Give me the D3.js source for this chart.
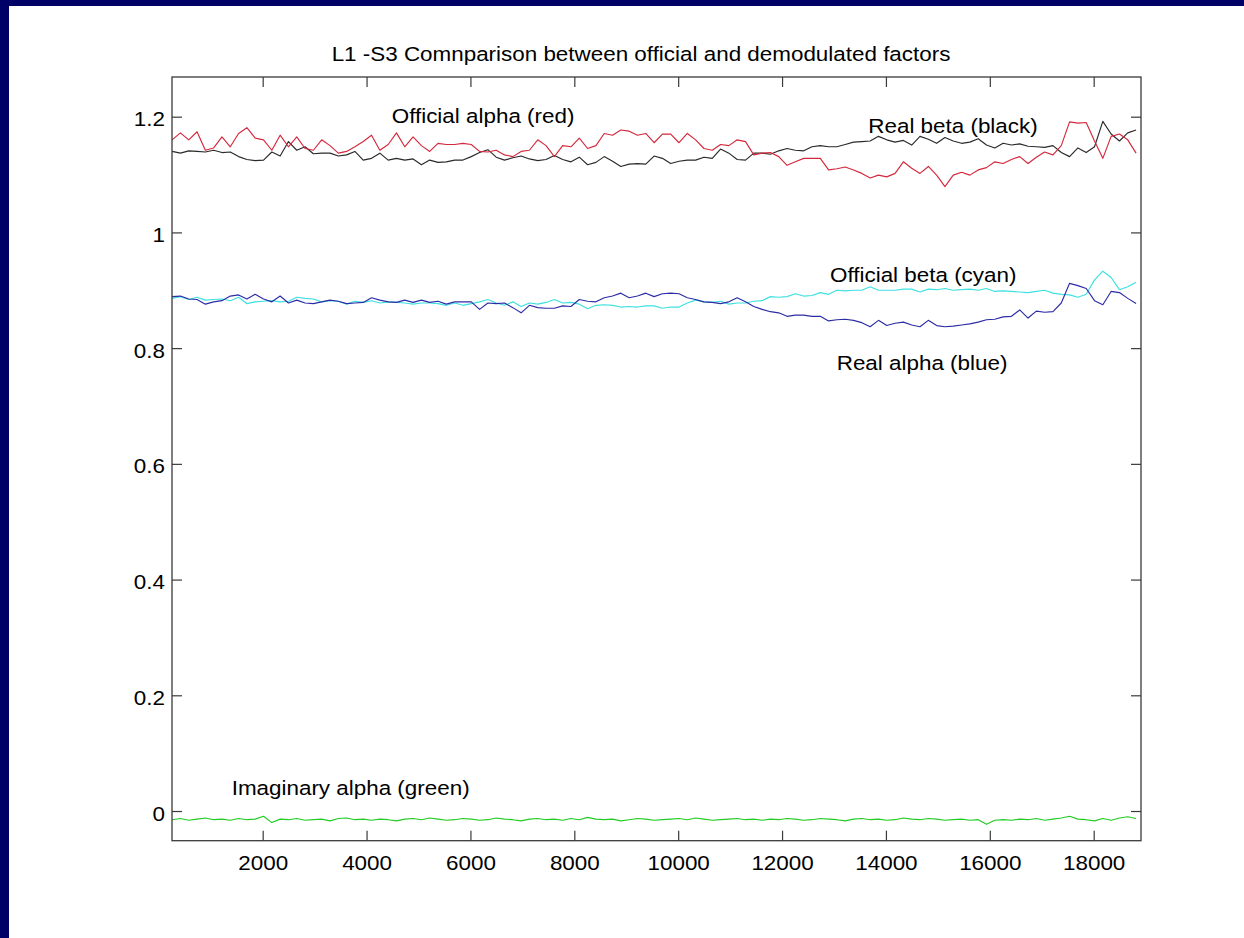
<!DOCTYPE html>
<html>
<head>
<meta charset="utf-8">
<script src="https://cdn.jsdelivr.net/npm/d3@7"></script>
<style>
  html, body { margin: 0; padding: 0; background: #000066; }
  svg { display: block; }
  text { font-family: "Liberation Sans", Arial, Helvetica, sans-serif; fill: #000; }
</style>
</head>
<body>
<svg id="chart" width="1244" height="938"></svg>
<script>
// Sample positions: first sample and spacing of the calibration record
const sampleStart = 256;
const sampleStep = 160;

// Official alpha (red)
const officialAlpha = [
  1.160, 1.172, 1.160, 1.174, 1.142, 1.146, 1.165, 1.148, 1.171, 1.181,
  1.163, 1.160, 1.142, 1.168, 1.148, 1.165, 1.145, 1.142, 1.160, 1.150,
  1.137, 1.140, 1.148, 1.157, 1.168, 1.142, 1.152, 1.172, 1.148, 1.165,
  1.150, 1.140, 1.154, 1.152, 1.152, 1.154, 1.152, 1.140, 1.139, 1.142,
  1.134, 1.131, 1.140, 1.142, 1.160, 1.150, 1.131, 1.150, 1.148, 1.163,
  1.145, 1.150, 1.171, 1.168, 1.177, 1.175, 1.168, 1.171, 1.155, 1.170,
  1.170, 1.155, 1.171, 1.160, 1.145, 1.142, 1.152, 1.150, 1.160, 1.157,
  1.134, 1.137, 1.138, 1.131, 1.116, 1.122, 1.128, 1.128, 1.128, 1.108,
  1.110, 1.113, 1.108, 1.102, 1.094, 1.099, 1.096, 1.102, 1.122, 1.111,
  1.102, 1.114, 1.099, 1.079, 1.099, 1.104, 1.099, 1.108, 1.112, 1.122,
  1.119, 1.126, 1.131, 1.119, 1.130, 1.139, 1.134, 1.150, 1.191, 1.189,
  1.190, 1.158, 1.128, 1.166, 1.170, 1.160, 1.137
];

// Real beta (black)
const realBeta = [
  1.140, 1.137, 1.141, 1.140, 1.139, 1.142, 1.138, 1.139, 1.131, 1.126,
  1.124, 1.125, 1.139, 1.132, 1.157, 1.142, 1.148, 1.136, 1.137, 1.137,
  1.132, 1.134, 1.140, 1.125, 1.128, 1.137, 1.125, 1.128, 1.125, 1.127,
  1.117, 1.125, 1.121, 1.122, 1.125, 1.125, 1.131, 1.138, 1.143, 1.130,
  1.125, 1.129, 1.132, 1.127, 1.124, 1.126, 1.133, 1.126, 1.122, 1.130,
  1.117, 1.121, 1.131, 1.123, 1.114, 1.118, 1.119, 1.118, 1.132, 1.128,
  1.119, 1.123, 1.125, 1.125, 1.130, 1.128, 1.144, 1.137, 1.126, 1.125,
  1.137, 1.137, 1.135, 1.141, 1.145, 1.142, 1.141, 1.148, 1.150, 1.148,
  1.148, 1.152, 1.156, 1.157, 1.158, 1.166, 1.160, 1.156, 1.159, 1.151,
  1.166, 1.161, 1.154, 1.164, 1.158, 1.154, 1.156, 1.162, 1.151, 1.146,
  1.154, 1.151, 1.153, 1.149, 1.148, 1.147, 1.150, 1.138, 1.131, 1.146,
  1.138, 1.148, 1.192, 1.170, 1.158, 1.172, 1.177
];

// Real alpha (blue)
const realAlpha = [
  0.889, 0.890, 0.885, 0.884, 0.876, 0.880, 0.882, 0.890, 0.892, 0.885,
  0.893, 0.885, 0.880, 0.890, 0.878, 0.883, 0.878, 0.877, 0.880, 0.883,
  0.881, 0.877, 0.878, 0.879, 0.887, 0.883, 0.880, 0.879, 0.883, 0.879,
  0.883, 0.879, 0.881, 0.876, 0.880, 0.880, 0.880, 0.867, 0.878, 0.877,
  0.878, 0.870, 0.861, 0.874, 0.870, 0.869, 0.869, 0.873, 0.872, 0.884,
  0.881, 0.880, 0.887, 0.890, 0.895, 0.887, 0.890, 0.895, 0.889, 0.894,
  0.895, 0.894, 0.887, 0.884, 0.880, 0.879, 0.877, 0.880, 0.887, 0.880,
  0.872, 0.867, 0.863, 0.861, 0.855, 0.857, 0.857, 0.855, 0.855, 0.847,
  0.849, 0.850, 0.848, 0.844, 0.837, 0.848, 0.839, 0.843, 0.845, 0.840,
  0.837, 0.848, 0.839, 0.837, 0.838, 0.840, 0.842, 0.845, 0.849, 0.850,
  0.854, 0.855, 0.866, 0.852, 0.864, 0.862, 0.863, 0.878, 0.912, 0.908,
  0.903, 0.882, 0.875, 0.898, 0.896, 0.886, 0.877
];

// Official beta (cyan)
const officialBeta = [
  0.886, 0.889, 0.884, 0.888, 0.883, 0.884, 0.885, 0.882, 0.888, 0.877,
  0.880, 0.881, 0.882, 0.880, 0.881, 0.888, 0.886, 0.885, 0.880, 0.882,
  0.881, 0.876, 0.881, 0.879, 0.882, 0.878, 0.880, 0.879, 0.878, 0.876,
  0.878, 0.878, 0.877, 0.874, 0.878, 0.874, 0.877, 0.880, 0.884, 0.878,
  0.874, 0.880, 0.872, 0.878, 0.876, 0.879, 0.884, 0.878, 0.879, 0.876,
  0.868, 0.874, 0.875, 0.874, 0.871, 0.872, 0.871, 0.873, 0.873, 0.869,
  0.871, 0.871, 0.878, 0.883, 0.880, 0.879, 0.881, 0.876, 0.878, 0.878,
  0.881, 0.882, 0.889, 0.888, 0.889, 0.894, 0.890, 0.891, 0.896, 0.893,
  0.900, 0.899, 0.900, 0.900, 0.906, 0.900, 0.900, 0.900, 0.902, 0.902,
  0.897, 0.902, 0.901, 0.903, 0.900, 0.901, 0.902, 0.900, 0.903, 0.898,
  0.899, 0.898, 0.897, 0.896, 0.898, 0.900, 0.895, 0.893, 0.892, 0.888,
  0.893, 0.918, 0.933, 0.922, 0.901, 0.906, 0.914
];

// Imaginary alpha (green)
const imaginaryAlpha = [
  -0.015, -0.013, -0.016, -0.014, -0.012, -0.015, -0.014, -0.016, -0.013, -0.015,
  -0.014, -0.009, -0.020, -0.014, -0.015, -0.013, -0.016, -0.015, -0.014, -0.017,
  -0.013, -0.012, -0.015, -0.014, -0.016, -0.014, -0.015, -0.017, -0.014, -0.013,
  -0.015, -0.012, -0.014, -0.016, -0.015, -0.013, -0.014, -0.016, -0.015, -0.012,
  -0.014, -0.015, -0.017, -0.014, -0.013, -0.015, -0.014, -0.016, -0.013, -0.015,
  -0.011, -0.014, -0.015, -0.014, -0.017, -0.015, -0.013, -0.014, -0.016, -0.015,
  -0.014, -0.013, -0.015, -0.012, -0.014, -0.016, -0.015, -0.014, -0.013, -0.015,
  -0.014, -0.016, -0.014, -0.015, -0.013, -0.014, -0.016, -0.015, -0.013, -0.014,
  -0.015, -0.017, -0.014, -0.013, -0.015, -0.014, -0.016, -0.015, -0.012, -0.014,
  -0.015, -0.013, -0.014, -0.016, -0.015, -0.014, -0.016, -0.015, -0.023, -0.016,
  -0.015, -0.016, -0.014, -0.015, -0.013, -0.016, -0.014, -0.012, -0.009, -0.014,
  -0.015, -0.017, -0.013, -0.016, -0.012, -0.010, -0.013
];

const xTicks = [2000, 4000, 6000, 8000, 10000, 12000, 14000, 16000, 18000];
const yTicks = [0, 0.2, 0.4, 0.6, 0.8, 1, 1.2];

const titleText = "L1 -S3 Comnparison between official and demodulated factors";

// Text annotations placed in data coordinates
const annotations = [
  { text: "Official alpha (red)",     x: 4484,  y: 1.189 },
  { text: "Real beta (black)",        x: 13660, y: 1.171 },
  { text: "Official beta (cyan)",     x: 12923, y: 0.915 },
  { text: "Real alpha (blue)",        x: 13052, y: 0.763 },
  { text: "Imaginary alpha (green)",  x: 1403,  y: 0.028 }
];

const seriesList = [
  { name: "realBeta",       values: realBeta,       color: "#2a2a2a" },
  { name: "officialAlpha",  values: officialAlpha,  color: "#d4283c" },
  { name: "officialBeta",   values: officialBeta,   color: "#3ee0e0" },
  { name: "realAlpha",      values: realAlpha,      color: "#2c2ca6" },
  { name: "imaginaryAlpha", values: imaginaryAlpha, color: "#22cc22" }
];

// ---- layout ----
const W = 1244, H = 938;
const plot = { left: 172, right: 1141, top: 77, bottom: 840.7 };
const fontSize = 19.5;
const stretch = 1.15;   // horizontally widened lettering

const svg = d3.select("#chart");

// white figure panel on the navy slide
svg.append("rect").attr("x", 9).attr("y", 6).attr("width", W - 9).attr("height", H - 6).attr("fill", "#ffffff");

const x = d3.scaleLinear().domain([254, 18911]).range([plot.left, plot.right]);
const y = d3.scaleLinear().domain([-0.0513, 1.2686]).range([plot.bottom, plot.top]);

svg.append("clipPath").attr("id", "plotClip")
  .append("rect")
  .attr("x", plot.left).attr("y", plot.top)
  .attr("width", plot.right - plot.left).attr("height", plot.bottom - plot.top);

// data lines
const line = d3.line()
  .x((d, i) => x(sampleStart + sampleStep * i))
  .y(d => y(d));

const lines = svg.append("g").attr("clip-path", "url(#plotClip)");
seriesList.forEach(s => {
  lines.append("path")
    .datum(s.values)
    .attr("fill", "none")
    .attr("stroke", s.color)
    .attr("stroke-width", 1.15)
    .attr("stroke-linejoin", "round")
    .attr("d", line);
});

// axes (inward ticks on all four sides)
const axisColor = "#3a3a3a";
function styleAxis(g) {
  g.select(".domain").remove();
  g.selectAll(".tick line").attr("stroke", axisColor).attr("stroke-width", 1.2);
  g.selectAll("text").style("font-size", fontSize + "px")
    .style("font-family", '"Liberation Sans", Arial, sans-serif').attr("fill", "#000");
}

const fmt = d3.format("~g");

const gBottom = svg.append("g").attr("transform", `translate(0,${plot.bottom})`)
  .call(d3.axisBottom(x).tickValues(xTicks).tickFormat(fmt).tickSizeInner(-10).tickSizeOuter(0))
  .call(styleAxis);
gBottom.selectAll(".tick text").attr("y", 29.5).attr("dy", 0)
  .attr("transform", `scale(${stretch},1)`);

const gTop = svg.append("g").attr("transform", `translate(0,${plot.top})`)
  .call(d3.axisTop(x).tickValues(xTicks).tickFormat("").tickSizeInner(-10).tickSizeOuter(0))
  .call(styleAxis);

const gLeft = svg.append("g").attr("transform", `translate(${plot.left},0)`)
  .call(d3.axisLeft(y).tickValues(yTicks).tickFormat(fmt).tickSizeInner(-10).tickSizeOuter(0))
  .call(styleAxis);
gLeft.selectAll(".tick text").attr("x", -7 / stretch).attr("dy", 9)
  .attr("transform", `scale(${stretch},1)`);

const gRight = svg.append("g").attr("transform", `translate(${plot.right},0)`)
  .call(d3.axisRight(y).tickValues(yTicks).tickFormat("").tickSizeInner(-10).tickSizeOuter(0))
  .call(styleAxis);

// axes box
svg.append("rect")
  .attr("x", plot.left).attr("y", plot.top)
  .attr("width", plot.right - plot.left).attr("height", plot.bottom - plot.top)
  .attr("fill", "none").attr("stroke", axisColor).attr("stroke-width", 1.3);

// title
svg.append("text")
  .attr("transform", `translate(641,60.5) scale(${stretch},1)`)
  .attr("text-anchor", "middle")
  .style("font-size", fontSize + "px")
  .text(titleText);

// annotations
svg.append("g").selectAll("text")
  .data(annotations)
  .join("text")
  .attr("transform", d => `translate(${x(d.x)},${y(d.y)}) scale(${stretch},1)`)
  .style("font-size", fontSize + "px")
  .text(d => d.text);
</script>
</body>
</html>
